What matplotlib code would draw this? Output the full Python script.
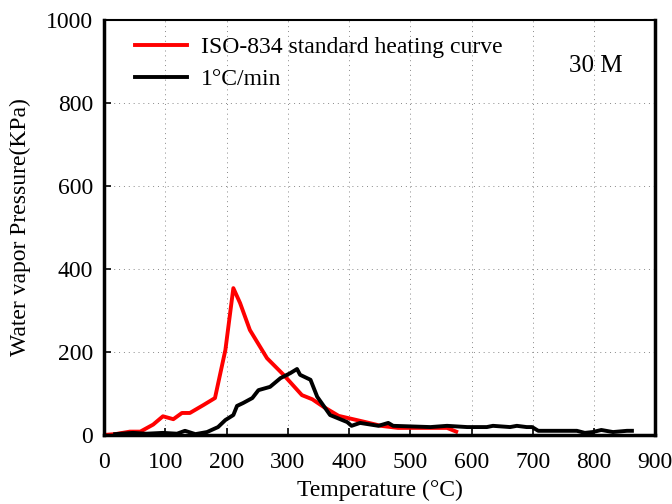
import matplotlib
matplotlib.use('Agg')
import matplotlib.pyplot as plt

# ISO-834 standard heating curve
iso_t = [0, 18, 42, 59, 80, 96, 113, 127, 140, 162, 181, 198, 211, 222, 238, 266, 293,
         323, 340, 358, 383, 424, 452, 480, 533, 560, 575]
iso_p = [0, 2, 8, 8, 25, 45, 38, 53, 53, 72, 89, 205, 354, 318, 253, 185, 145,
         96, 86, 68, 46, 32, 22, 17, 17, 17, 8]

# 1 C/min
slow_t = [18, 47, 69, 96, 119, 132, 149, 168, 186, 198, 211, 217, 227, 242, 252, 271, 288,
          304, 315, 320, 337, 348, 369, 397, 404, 418, 448, 464, 472, 533, 560, 593,
          625, 635, 663, 674, 690, 699, 709, 772, 785, 798, 812, 831, 854, 862]
slow_p = [2, 5, 3, 5, 3, 10, 2, 7, 19, 36, 48, 70, 77, 89, 108, 116, 137,
          149, 159, 145, 133, 92, 48, 31, 22, 29, 22, 29, 22, 19, 22, 19,
          19, 22, 19, 22, 19, 19, 10, 10, 5, 7, 12, 7, 10, 10]

plt.rcParams['font.family'] = ['Liberation Serif', 'DejaVu Serif']

fig = plt.figure(figsize=(6.72, 5.04), dpi=100)
ax = fig.add_axes([0.155, 0.137, 0.82, 0.823])

ax.plot(iso_t, iso_p, color='red', linewidth=2.8, label='ISO-834 standard heating curve')
ax.plot(slow_t, slow_p, color='black', linewidth=2.8, label='1°C/min')

ax.set_xlim(0, 900)
ax.set_ylim(0, 1000)
ax.set_xticks(range(0, 901, 100))
ax.set_yticks(range(0, 1001, 200))
ax.grid(True, linestyle=(0, (1, 4)), color='#888888', linewidth=0.7)
ax.tick_params(direction='in', labelsize=17, length=5, width=1.2, pad=8)
ax.tick_params(axis='x', pad=12)
for s in ax.spines.values():
    s.set_linewidth(2.5)
ax.spines['top'].set_linewidth(1.5)

ax.set_xlabel('Temperature (°C)', fontsize=17, labelpad=5)
ax.set_ylabel('Water vapor Pressure(KPa)', fontsize=17, labelpad=11)

ax.legend(loc='upper left', frameon=False, fontsize=17, handlelength=2.2,
          handletextpad=0.6, borderaxespad=0.2, labelspacing=0.45,
          bbox_to_anchor=(0.03, 0.995))
ax.text(0.94, 0.89, '30 M', transform=ax.transAxes, fontsize=18, ha='right', va='center')

fig.savefig('out.png', dpi=100)
